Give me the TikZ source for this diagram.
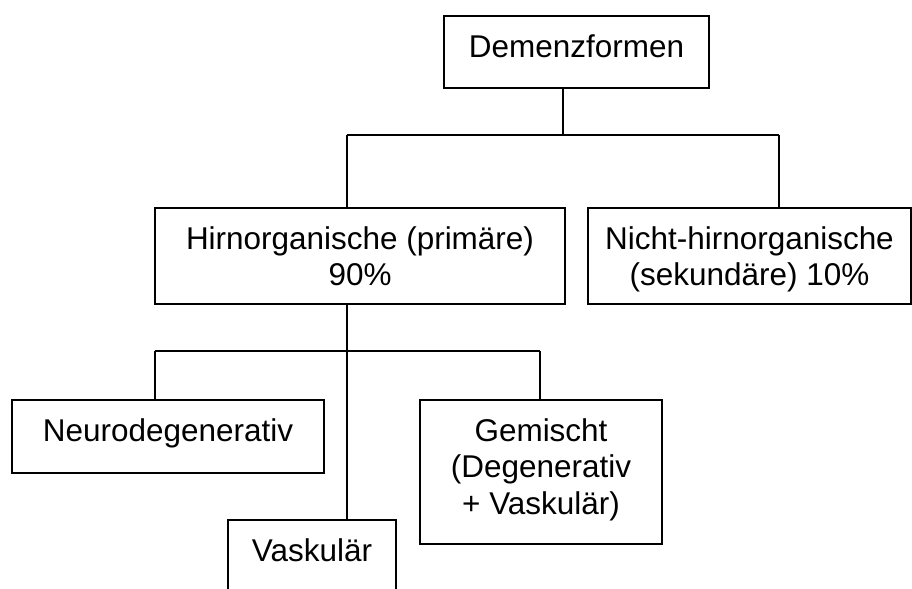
\documentclass[tikz,border=0pt]{standalone}
\usepackage{fontspec}
\setmainfont{Liberation Sans}
\newcommand\mlines[1]{\begin{tabular}[t]{@{}c@{}}#1\end{tabular}}
\begin{document}
\begin{tikzpicture}[x=0.75pt,y=-0.75pt,
  box/.style={draw, line width=1.5pt, inner xsep=0pt, inner ysep=0pt,
    anchor=north west, text height=30.75pt,
    font=\fontsize{23.6}{27.4}\selectfont},
  conn/.style={line width=1.5pt}]
\clip (0,0) rectangle (912,588);
\node[box, minimum width=198.75pt, text height=31.5pt, text depth=22.5pt] (dem) at (443,15) {Demenzformen};
\node[box, minimum width=307.5pt, text depth=41.25pt] (hirn) at (154,207) {\mlines{Hirnorganische (primäre)\\90\%}};
\node[box, minimum width=242.25pt, text depth=41.25pt] (nicht) at (587,207) {\mlines{Nicht-hirnorganische\\(sekundäre) 10\%}};
\node[box, minimum width=234pt, text depth=24pt] (neuro) at (11,399) {Neurodegenerativ};
\node[box, minimum width=181.5pt, text depth=77.25pt] (gem) at (419,399) {\mlines{Gemischt\\(Degenerativ\\+ Vaskulär)}};
\node[box, minimum width=126pt, text depth=36.75pt] (vask) at (227,519) {Vaskulär};
\coordinate (b0) at (563,135);
\coordinate (b1) at (347,135);
\coordinate (b2) at (779,135);
\coordinate (c0) at (347,351);
\coordinate (c1) at (155,351);
\coordinate (c2) at (540,351);
\draw[conn] (b0 |- dem.south) -- (b0);
\draw[conn] (b1) -- (b2);
\draw[conn] (b1) -- (b1 |- hirn.north);
\draw[conn] (b2) -- (b2 |- nicht.north);
\draw[conn] (c0 |- hirn.south) -- (c0 |- vask.north);
\draw[conn] (c1) -- (c2);
\draw[conn] (c1) -- (c1 |- neuro.north);
\draw[conn] (c2) -- (c2 |- gem.north);
\end{tikzpicture}
\end{document}
